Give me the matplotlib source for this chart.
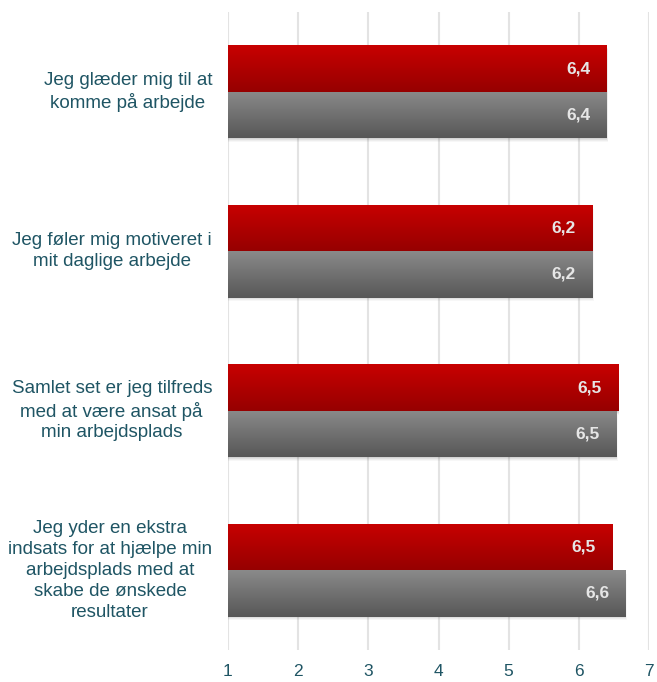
import numpy as np
import matplotlib
matplotlib.use("Agg")
import matplotlib.pyplot as plt
from matplotlib.patches import Rectangle

plt.rcParams['font.family'] = ['Liberation Sans', 'DejaVu Sans']

categories = [
    "Jeg glæder mig til at\nkomme på arbejde",
    "Jeg føler mig motiveret i\nmit daglige arbejde",
    "Samlet set er jeg tilfreds\nmed at være ansat på\nmin arbejdsplads",
    "Jeg yder en ekstra\nindsats for at hjælpe min\narbejdsplads med at\nskabe de ønskede\nresultater",
]
red_values = [6.4, 6.2, 6.56, 6.48]
gray_values = [6.4, 6.2, 6.54, 6.67]
red_labels = ["6,4", "6,2", "6,5", "6,5"]
gray_labels = ["6,4", "6,2", "6,5", "6,6"]
xticks = [1, 2, 3, 4, 5, 6, 7]

W, H = 657, 682
fig = plt.figure(figsize=(W / 100, H / 100), dpi=100)
ax = fig.add_axes([228 / W, (H - 650) / H, (649 - 228) / W, (650 - 12) / H])

n = len(categories)
ax.set_xlim(1, 7)
ax.set_ylim(n - 0.5, -0.5)

bh = 0.29
text_col = "#1F5564"

def grad_bar(y0, value, top, bottom):
    for i, a in enumerate([0.06, 0.05, 0.04, 0.03]):
        d = 0.006 * (i + 1)
        sh = Rectangle((1, y0 + d), value - 1 + d * 0.5, bh, facecolor="black",
                       alpha=a, edgecolor="none", zorder=2)
        ax.add_patch(sh)
    bar = ax.barh(y0 + bh / 2, value - 1, left=1, height=bh, color="none",
                  edgecolor="none", zorder=3)[0]
    grad = np.linspace(0, 1, 100).reshape(-1, 1)
    c0 = np.array(matplotlib.colors.to_rgb(top))
    c1 = np.array(matplotlib.colors.to_rgb(bottom))
    img = c0[None, None, :] * (1 - grad[:, :, None]) + c1[None, None, :] * grad[:, :, None]
    im = ax.imshow(img, extent=(1, value, y0 + bh, y0), aspect="auto",
                   zorder=3, interpolation="bilinear")
    im.set_clip_path(bar)

for i in range(n):
    yr = i - bh
    grad_bar(yr, red_values[i], "#C80000", "#960000")
    grad_bar(i, gray_values[i], "#8A8A8A", "#575757")
    ax.text(red_values[i] - 0.24, yr + bh / 2, red_labels[i], ha="right", va="center",
            color="#E6E6E6", fontsize=12.5, fontweight="bold", zorder=5)
    ax.text(gray_values[i] - 0.24, i + bh / 2, gray_labels[i], ha="right", va="center",
            color="#E6E6E6", fontsize=12.5, fontweight="bold", zorder=5)
    yfig = ax.transData.transform((1, i))[1] / H
    fig.text(212 / W, yfig, categories[i], ha="right", va="center",
             multialignment="center",
             color=text_col, fontsize=13.5, linespacing=1.3)

ax.set_xlim(1, 7)
ax.set_ylim(n - 0.5, -0.5)
ax.set_xticks(xticks)
ax.set_xticklabels([str(t) for t in xticks], color=text_col, fontsize=12.5)
ax.tick_params(axis="x", length=0, pad=10)
ax.set_yticks([])
ax.grid(axis="x", color="#E3E3E3", linewidth=1.5, zorder=0)
ax.set_axisbelow(True)
for s in ax.spines.values():
    s.set_visible(False)

fig.savefig("out.png", dpi=100)
